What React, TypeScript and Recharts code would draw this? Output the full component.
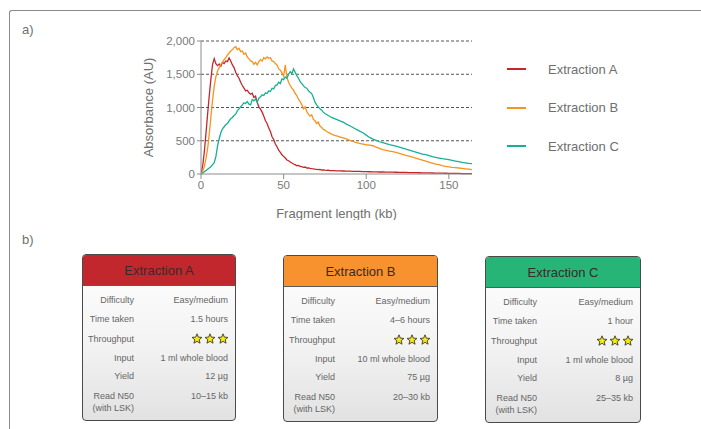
import React from 'react'
import { LineChart, Line, XAxis, YAxis, CartesianGrid, Legend } from 'recharts'

// fragment length positions (kb)
const kb = [
  0, 1, 2, 3, 4, 5, 6, 7, 8, 9, 10, 11, 12, 13, 14, 15, 16, 17, 18, 19,
  20, 21, 22, 23, 24, 25, 26, 27, 28, 29, 30, 31, 32, 33, 34, 35, 36, 37, 38, 39,
  40, 41, 42, 43, 44, 45, 46, 47, 48, 49, 50, 51, 52, 53, 54, 55, 56, 57, 58, 59,
  60, 61, 62, 63, 64, 65, 66, 67, 68, 69, 70, 71, 72, 73, 74, 75, 76, 77, 78, 79,
  80, 82, 84, 86, 88, 90, 92, 94, 96, 98, 100, 102, 104, 106, 108, 110, 112, 114, 116, 118,
  120, 122, 124, 126, 128, 130, 132, 134, 136, 138, 140, 142, 144, 146, 148, 150, 152, 154, 156, 158,
  160, 162, 164,
]

// absorbance traces (AU)
const extractionA = [
  0, 120, 330, 610, 900, 1180, 1430, 1650, 1735, 1660, 1630, 1655, 1620, 1680, 1660, 1700, 1690, 1745, 1700, 1640,
  1600, 1530, 1480, 1440, 1380, 1330, 1290, 1250, 1260, 1220, 1200, 1215, 1150, 1170, 1080, 1010, 975, 930, 870, 800,
  760, 690, 640, 560, 520, 450, 410, 360, 325, 290, 265, 240, 210, 200, 180, 165, 150, 140, 125, 130,
  115, 110, 100, 105, 90, 92, 85, 80, 78, 72, 70, 66, 68, 60, 62, 58, 55, 57, 52, 50,
  50, 48, 46, 45, 44, 42, 40, 40, 38, 37, 35, 34, 33, 32, 30, 30, 28, 28, 27, 26,
  25, 24, 24, 22, 21, 20, 19, 18, 17, 16, 15, 14, 13, 12, 11, 10, 9, 8, 8, 7,
  6, 5, 5,
]
const extractionB = [
  0, 40, 110, 230, 380, 600, 860, 1110, 1320, 1460, 1550, 1600, 1650, 1680, 1720, 1750, 1790, 1820, 1850, 1870,
  1900, 1915, 1870, 1890, 1840, 1850, 1800, 1820, 1760, 1730, 1700, 1690, 1650, 1680, 1640, 1690, 1720, 1700, 1750, 1730,
  1760, 1740, 1750, 1700, 1690, 1660, 1640, 1580, 1560, 1520, 1470, 1640, 1450, 1380, 1330, 1290, 1260, 1210, 1180, 1120,
  1090, 1040, 980, 1010, 940, 900, 870, 890, 820, 800, 760, 780, 720, 700, 670, 660, 640, 625, 615, 600,
  590, 575, 560, 545, 530, 505, 490, 470, 460, 450, 440, 435, 425, 405, 385, 365, 355, 345, 335, 325,
  310, 295, 280, 270, 255, 240, 225, 210, 195, 180, 165, 150, 140, 125, 115, 108, 100, 95, 90, 85,
  78, 72, 65,
]
const extractionC = [
  0, 15, 35, 50, 70, 90, 110, 140, 170, 260, 420, 530, 620, 680, 710, 740, 760, 800, 830, 850,
  880, 900, 950, 980, 1010, 1040, 1070, 1060, 1090, 1050, 1040, 1120, 1100, 1130, 1080, 1140, 1160, 1190, 1180, 1220,
  1210, 1250, 1240, 1290, 1280, 1330, 1340, 1380, 1360, 1430, 1420, 1460, 1440, 1500, 1540, 1510, 1580, 1530, 1480, 1440,
  1390, 1360, 1330, 1300, 1290, 1250, 1230, 1210, 1150, 1080, 1040, 1010, 980, 960, 930, 910, 895, 880, 865, 850,
  840, 820, 800, 780, 750, 725, 700, 670, 645, 620, 585, 550, 525, 505, 485, 470, 455, 440, 430, 420,
  405, 390, 375, 360, 345, 330, 315, 300, 290, 275, 260, 250, 240, 230, 225, 215, 205, 195, 185, 175,
  168, 160, 155,
]

const xTicks = [0, 50, 100, 150]
const yTicks = [0, 500, 1000, 1500, 2000]

const seriesNames = ['Extraction A', 'Extraction B', 'Extraction C']
const seriesColors = ['#c4262e', '#f7931e', '#17b096']
const headerColors = ['#c1272d', '#f7922e', '#27b577']

const rowLabels = ['Difficulty', 'Time taken', 'Throughput', 'Input', 'Yield', 'Read N50\n(with LSK)']
const cardValues = [
  ['Easy/medium', '1.5 hours', '***', '1 ml whole blood', '12 µg', '10–15 kb'],
  ['Easy/medium', '4–6 hours', '***', '10 ml whole blood', '75 µg', '20–30 kb'],
  ['Easy/medium', '1 hour', '***', '1 ml whole blood', '8 µg', '25–35 kb'],
]
const cardBoxes = [
  { left: 82, top: 254, width: 154 },
  { left: 283, top: 255, width: 155 },
  { left: 485, top: 256, width: 156 },
]

const data = kb.map((x, i) => ({ kb: x, A: extractionA[i], B: extractionB[i], C: extractionC[i] }))

const FONT = '"Liberation Sans", Arial, sans-serif'
const GREY = '#6f6f6f'

const Star = ({ x }: { x: number }) => {
  const pts: string[] = []
  for (let i = 0; i < 10; i++) {
    const r = i % 2 === 0 ? 5.2 : 2.3
    const a = -Math.PI / 2 + (i * Math.PI) / 5
    pts.push(`${x + r * Math.cos(a)},${6 + r * Math.sin(a)}`)
  }
  return <polygon points={pts.join(' ')} fill="#f5e71c" stroke="#3b3b1a" strokeWidth={0.9} strokeLinejoin="round" />
}

function Stars() {
  return (
    <svg width={38} height={12} style={{ display: 'block' }}>
      <Star x={6} />
      <Star x={19} />
      <Star x={32} />
    </svg>
  )
}

const rowTops = [45, 64, 84, 103, 121, 141]

function Card({ idx }: { idx: number }) {
  const box = cardBoxes[idx]
  return (
    <div style={{
      position: 'absolute', left: box.left, top: box.top, width: box.width, height: 167,
      border: '1px solid #4a4a4a', borderRadius: 4, overflow: 'hidden', boxSizing: 'border-box',
      background: 'linear-gradient(#ffffff 0%, #f4f4f4 50%, #e2e2e2 100%)',
    }}>
      <div style={{
        height: 30, background: headerColors[idx], borderBottom: '1px solid #5a5a5a',
        display: 'flex', alignItems: 'center', justifyContent: 'center',
        fontSize: 13, color: '#3a2a2a', fontFamily: FONT,
      }}>{seriesNames[idx]}</div>
      {rowLabels.map((lab, r) => (
        <React.Fragment key={lab}>
          <div style={{
            position: 'absolute', right: box.width - 53, top: rowTops[r] - 6, textAlign: 'right',
            fontSize: 9, lineHeight: '12px', color: '#666', fontFamily: FONT, whiteSpace: 'pre',
          }}>{lab}</div>
          {cardValues[idx][r] === '***' ? (
            <div style={{ position: 'absolute', right: 6, top: rowTops[r] - 6 }}><Stars /></div>
          ) : (
            <div style={{
              position: 'absolute', right: 7, top: rowTops[r] - 6, textAlign: 'right',
              fontSize: 9, lineHeight: '12px', color: '#666', fontFamily: FONT, whiteSpace: 'nowrap',
            }}>{cardValues[idx][r]}</div>
          )}
        </React.Fragment>
      ))}
    </div>
  )
}

const LegendBox = () => (
  <div style={{ fontFamily: FONT, position: 'relative', width: 140, height: 110 }}>
    {seriesNames.map((name, i) => (
      <div key={name} style={{ position: 'absolute', left: 0, top: i * 38.5, height: 20, width: 140, display: 'flex', alignItems: 'center' }}>
        <svg width={20} height={4} style={{ display: 'block' }}>
          <line x1={0} y1={2} x2={19} y2={2} stroke={seriesColors[i]} strokeWidth={2} />
        </svg>
        <span style={{ marginLeft: 21, fontSize: 13, color: GREY }}>{name}</span>
      </div>
    ))}
  </div>
)

export default function App() {
  return (
    <div style={{ position: 'absolute', left: 0, top: 0, width: 701, height: 429, overflow: 'hidden', background: '#fff', fontFamily: FONT }}>
      <div style={{
        position: 'absolute', left: 9, top: 10, width: 800, height: 600,
        borderLeft: '1.5px solid #8a8a8a', borderTop: '1.5px solid #8a8a8a', borderTopLeftRadius: 3,
      }} />
      <div style={{ position: 'absolute', left: 22, top: 22, fontSize: 13, color: GREY }}>a)</div>
      <div style={{ position: 'absolute', left: 22, top: 232, fontSize: 13, color: GREY }}>b)</div>

      <div style={{ position: 'absolute', left: 130, top: 30 }}>
        <LineChart width={520} height={190} data={data} margin={{ top: 11, right: 38, bottom: 0, left: 5 }}>
          <CartesianGrid horizontal vertical={false} stroke="#555" strokeDasharray="3 2" horizontalValues={[500, 1000, 1500, 2000]} />
          <XAxis
            dataKey="kb" type="number" domain={[0, 164]} ticks={xTicks} allowDataOverflow
            height={46} stroke="#8c8c8c" tickSize={5}
            tick={{ fontSize: 11.5, fill: '#7a7a7a', fontFamily: FONT }}
            label={{ value: 'Fragment length (kb)', position: 'insideBottom', offset: 2, fontSize: 13, fill: GREY, fontFamily: FONT }}
          />
          <YAxis
            type="number" domain={[0, 2000]} ticks={yTicks} width={66} stroke="#8c8c8c" tickSize={4}
            tickFormatter={(v: number) => v.toLocaleString('en-US')}
            tick={{ fontSize: 11.5, fill: '#7a7a7a', fontFamily: FONT }}
            label={{ value: 'Absorbance (AU)', angle: -90, position: 'insideLeft', offset: 13, style: { textAnchor: 'middle' }, fontSize: 13, fill: GREY, fontFamily: FONT }}
          />
          <Legend
            layout="vertical" verticalAlign="top" align="right" content={<LegendBox />}
            wrapperStyle={{ position: 'absolute', left: 377, top: 29, width: 140, height: 110 }}
          />
          <Line dataKey="A" name={seriesNames[0]} stroke={seriesColors[0]} strokeWidth={1.3} dot={false} isAnimationActive={false} />
          <Line dataKey="B" name={seriesNames[1]} stroke={seriesColors[1]} strokeWidth={1.3} dot={false} isAnimationActive={false} />
          <Line dataKey="C" name={seriesNames[2]} stroke={seriesColors[2]} strokeWidth={1.3} dot={false} isAnimationActive={false} />
        </LineChart>
      </div>

      {cardBoxes.map((_, i) => <Card key={i} idx={i} />)}
    </div>
  )
}
